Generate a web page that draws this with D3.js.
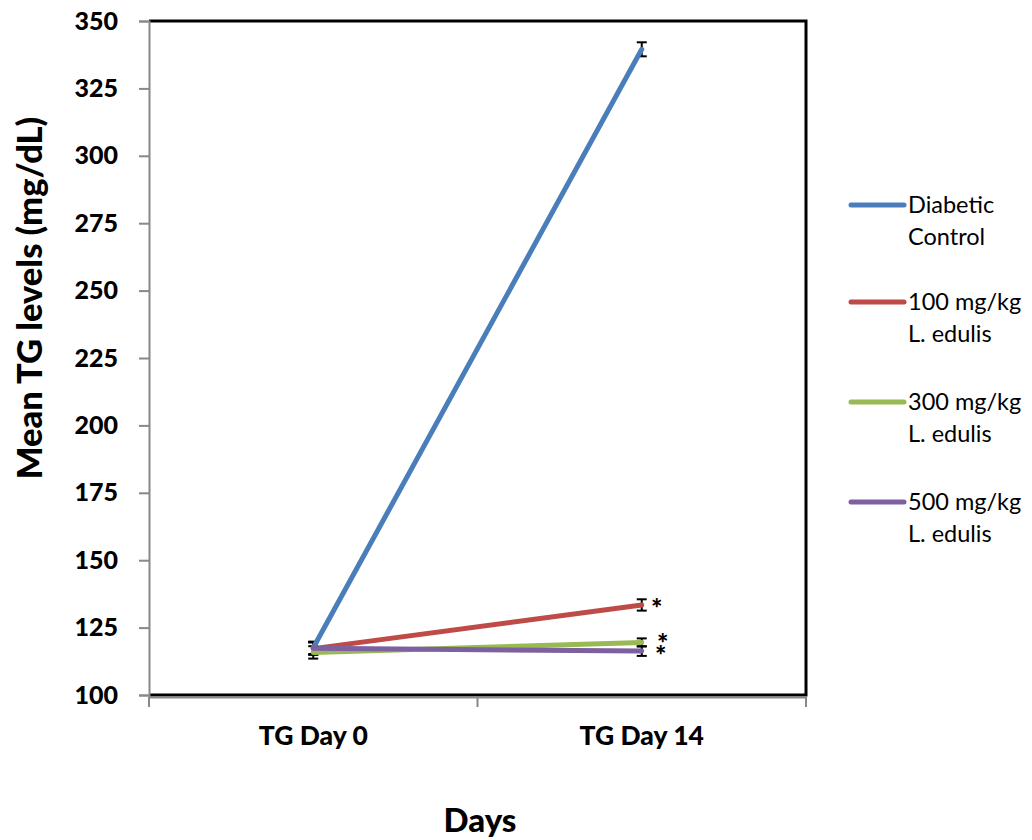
<!DOCTYPE html>
<html><head><meta charset="utf-8">
<script src="https://cdn.jsdelivr.net/npm/d3@7"></script>
<style>body{margin:0;background:#fff;} svg{display:block;}</style>
</head><body>
<script>
const categories = ["TG Day 0", "TG Day 14"];
const seriesNames = ["Diabetic Control", "100 mg/kg L. edulis", "300 mg/kg L. edulis", "500 mg/kg L. edulis"];
const legendLines = [["Diabetic","Control"],["100 mg/kg","L. edulis"],["300 mg/kg","L. edulis"],["500 mg/kg","L. edulis"]];
const diabetic = [117.5, 339.5];
const dose100 = [117.2, 133.4];
const dose300 = [115.8, 119.5];
const dose500 = [117.3, 116.3];
const errDiabetic = [2.3, 2.6];
const err100 = [2.3, 2.1];
const err300 = [2.3, 1.5];
const err500 = [2.3, 1.8];
const signif = [false, true, true, true];
const yTicks = [100,125,150,175,200,225,250,275,300,325,350];
const colors = ["#4a7ebb","#be4b48","#98b954","#7d60a0"];

(function(){
const values = [diabetic, dose100, dose300, dose500];
const errs = [errDiabetic, err100, err300, err500];

const W = 1032, H = 840;
const svg = d3.select("body").append("svg").attr("width", W).attr("height", H);
const pL = 149, pR = 806, pT = 21, pB = 695;
const font = "Lato, 'Open Sans', sans-serif";

const x = d3.scaleBand().domain(categories).range([pL, pR]);
const y = d3.scaleLinear().domain([100, 350]).range([pB, pT]);

// frame
svg.append("path").attr("d", `M${pL},${pT}H${pR}V${pB}H${pL}`)
  .attr("fill","none").attr("stroke","#000").attr("stroke-width",3);

// y axis
const ya = svg.append("g").attr("transform", `translate(${pL},0)`)
  .call(d3.axisLeft(y).tickValues(yTicks).tickSize(10).tickPadding(21));
ya.select(".domain").attr("stroke","#888").attr("stroke-width",2);
ya.selectAll(".tick line").attr("stroke","#888").attr("stroke-width",2);
ya.selectAll("text").attr("font-family",font).attr("font-weight","900").attr("font-size",25).attr("fill","#000");

// x axis
const xa = svg.append("g").attr("transform", `translate(0,${pB+2})`)
  .call(d3.axisBottom(x).tickSize(0).tickPadding(29));
xa.select(".domain").attr("stroke","#888").attr("stroke-width",2);
xa.selectAll("text").attr("font-family",font).attr("font-weight","900").attr("font-size",26.5).attr("fill","#000");
const bounds = [pL, pL + x.step(), pR];
xa.selectAll(".bt").data(bounds).enter().append("line")
  .attr("x1", d=>d).attr("x2", d=>d).attr("y1",0).attr("y2",10)
  .attr("stroke","#888").attr("stroke-width",2);

const cx = c => x(c) + x.bandwidth()/2;

// error bars
values.forEach((vals, i) => {
  vals.forEach((v, j) => {
    const X = cx(categories[j]), e = errs[i][j];
    const g = svg.append("g").attr("stroke","#000").attr("stroke-width",2);
    g.append("line").attr("x1",X).attr("x2",X).attr("y1",y(v+e)).attr("y2",y(v-e));
    g.append("line").attr("x1",X-5).attr("x2",X+5).attr("y1",y(v+e)).attr("y2",y(v+e));
    g.append("line").attr("x1",X-5).attr("x2",X+5).attr("y1",y(v-e)).attr("y2",y(v-e));
  });
});

// lines
const line = d3.line().x((d,j)=>cx(categories[j])).y(d=>y(d));
[0,1,2,3].forEach(i => {
  svg.append("path").datum(values[i]).attr("d", line)
    .attr("fill","none").attr("stroke", colors[i]).attr("stroke-width",5).attr("stroke-linecap","round");
});

// significance asterisks
const astDx = [0, 15, 21, 19];
const astDy = [0, 13, 11, 14];
values.forEach((vals, i) => {
  if (!signif[i]) return;
  svg.append("text").attr("x", cx(categories[1]) + astDx[i]).attr("y", y(vals[1]) + astDy[i])
    .attr("text-anchor","middle")
    .attr("font-family",font).attr("font-weight","900").attr("font-size",27).text("*");
});

// axis titles
svg.append("text").attr("transform", `translate(42,298) rotate(-90)`)
  .attr("text-anchor","middle").attr("font-family",font).attr("font-weight","900").attr("font-size",34.5)
  .text("Mean TG levels (mg/dL)");
svg.append("text").attr("x", 480).attr("y", 832).attr("text-anchor","middle")
  .attr("font-family",font).attr("font-weight","900").attr("font-size",33).text("Days");

// legend
const legY = [205, 302, 402, 502];
legendLines.forEach((lines, i) => {
  const g = svg.append("g").attr("transform", `translate(0,${legY[i]})`);
  g.append("line").attr("x1",851).attr("x2",904).attr("y1",0).attr("y2",0)
    .attr("stroke",colors[i]).attr("stroke-width",5).attr("stroke-linecap","round");
  lines.forEach((t, k) => {
    g.append("text").attr("x",908).attr("y", 8 + k*32).attr("font-family",font).attr("font-size",23.5).text(t);
  });
});
})();
</script>
</body></html>
